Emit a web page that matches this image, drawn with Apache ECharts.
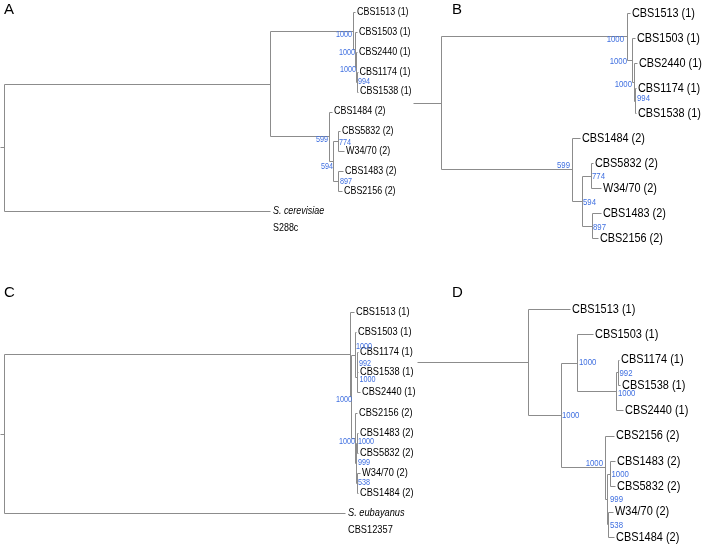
<!DOCTYPE html>
<html>
<head>
<meta charset="utf-8">
<script src="https://cdn.jsdelivr.net/npm/echarts@6.0.0/dist/echarts.min.js"></script>
<style>html,body{margin:0;padding:0;background:#fff}#chart{width:702px;height:544px}</style>
</head>
<body>
<div id="chart"></div>
<script>
// ---------- Panel A (rooted with S. cerevisiae) ----------
const leavesA = ['CBS1513 (1)','CBS1503 (1)','CBS2440 (1)','CBS1174 (1)','CBS1538 (1)','CBS1484 (2)','CBS5832 (2)','W34/70 (2)','CBS1483 (2)','CBS2156 (2)','S. cerevisiae'];
const leafDepthA = [351,353,353,353.5,354,328,336,340,339,338,266];
// internal nodes, children refer to leaf index (0..n-1) or node index (n + k)
const kidsA = [[3,4],[2,11],[1,12],[0,13],[6,7],[8,9],[15,16],[5,17],[14,18],[19,10]];
const nodeDepthA = [353,352,351,349,334,334,329,325,266,0];
const bootA = [994,1000,1000,1000,774,897,594,599,null,null];
const strainA = 'S288c';

// ---------- Panel B (panel A ingroup enlarged) ----------
const leavesB = ['CBS1513 (1)','CBS1503 (1)','CBS2440 (1)','CBS1174 (1)','CBS1538 (1)','CBS1484 (2)','CBS5832 (2)','W34/70 (2)','CBS1483 (2)','CBS2156 (2)'];
const leafDepthB = [189,194,196,195,195,139,152,160,160,157];
const kidsB = [[3,4],[2,10],[1,11],[0,12],[6,7],[8,9],[14,15],[5,16],[13,17]];
const nodeDepthB = [194,193,191,186,150,151,141,131,0];
const bootB = [994,1000,1000,1000,774,897,594,599,null];

// ---------- Panel C (rooted with S. eubayanus) ----------
const leavesC = ['CBS1513 (1)','CBS1503 (1)','CBS1174 (1)','CBS1538 (1)','CBS2440 (1)','CBS2156 (2)','CBS1483 (2)','CBS5832 (2)','W34/70 (2)','CBS1484 (2)','S. eubayanus'];
const leafDepthC = [350,352,354,354,356,353,354,354,356,354,341];
const kidsC = [[2,3],[11,4],[1,12],[6,7],[8,9],[14,15],[5,16],[13,17],[0,18],[19,10]];
const nodeDepthC = [353,352.5,351,353,352.5,352,351,347,346,0];
const bootC = [992,1000,1000,1000,538,999,1000,1000,null,null];
const strainC = 'CBS12357';

// ---------- Panel D (panel C ingroup enlarged) ----------
const leavesD = ['CBS1513 (1)','CBS1503 (1)','CBS1174 (1)','CBS1538 (1)','CBS2440 (1)','CBS2156 (2)','CBS1483 (2)','CBS5832 (2)','W34/70 (2)','CBS1484 (2)'];
const leafDepthD = [42,65,91,92,95,86,87,87,85,86];
const kidsD = [[2,3],[10,4],[1,11],[6,7],[8,9],[13,14],[5,15],[12,16],[0,17]];
const nodeDepthD = [89.5,88,49,81.5,80,79,77,33,0];
const bootD = [992,1000,1000,1000,538,999,1000,1000,null];

const panelLetters = ['A','B','C','D'];

// ---------- layout / style (not data) ----------
const FONT = "'Liberation Sans',Arial,sans-serif";
const SQUEEZE = 0.85;
const LINE = '#8c8c8c';
const BLUE = '#3f6fe0';
const panels = [
  {leaves:leavesA, leafDepth:leafDepthA, kids:kidsA, depth:nodeDepthA, boot:bootA, strain:strainA,
   stem:-4, box:{left:0, top:12, width:400, height:199}, fs:10.5, bfs:8.5,
   bootPos:[['r',1,0],['l',0,3],['l',0,3],['l',-1,4],['r',1,1],['r',2,1],['l',0,5],['l',-1,3]],
   letter:{x:4, y:2}},
  {leaves:leavesB, leafDepth:leafDepthB, kids:kidsB, depth:nodeDepthB, boot:bootB,
   stem:-28, box:{left:413, top:13, width:285, height:225}, fs:12.8, bfs:9.2,
   bootPos:[['r',2,-2],['l',-2,3],['l',-5,2],['l',-3,3.5],['r',1,1],['r',1,1.5],['r',1,1.5],['l',-2,-4]],
   letter:{x:452, y:2}},
  {leaves:leavesC, leafDepth:leafDepthC, kids:kidsC, depth:nodeDepthC, boot:bootC, strain:strainC,
   stem:-4, box:{left:0, top:312, width:400, height:201}, fs:10.9, bfs:8.5,
   bootPos:[['r',2,1],['r',3,2],['r',1,-8],['r',1,-1],['r',1.5,0],['r',2,0],['l',0,4],['l',1,3]],
   letter:{x:4, y:285}},
  {leaves:leavesD, leafDepth:leafDepthD, kids:kidsD, depth:nodeDepthD, boot:bootD,
   stem:-111, box:{left:417, top:309, width:285, height:228}, fs:12.9, bfs:9.2,
   bootPos:[['r',2,1],['r',2,2],['r',2,0],['r',2,1],['r',2,1],['r',3,0],['l',-2,-4],['r',1,0]],
   letter:{x:452, y:285}}
];

function buildTree(p) {
  const n = p.leaves.length;
  const X = p.leafDepth.slice();
  const Y = p.leaves.map((_, i) => i);
  p.kids.forEach((k, j) => {
    const id = n + j;
    X[id] = p.depth[j];
    const ys = k.map(c => Y[c]);
    Y[id] = (Math.min(...ys) + Math.max(...ys)) / 2;
  });
  const segs = [];
  p.kids.forEach((k, j) => {
    const id = n + j;
    const ys = k.map(c => Y[c]);
    segs.push([X[id], Math.min(...ys), X[id], Math.max(...ys)]);
    k.forEach(c => segs.push([X[id], Y[c], X[c], Y[c]]));
  });
  const root = n + p.kids.length - 1;
  segs.push([p.stem, Y[root], X[root], Y[root]]);
  return {X, Y, segs, n};
}

const option = {animation:false, grid:[], xAxis:[], yAxis:[], series:[], graphic:[]};
const snap = v => Math.round(v) + 0.5;

panels.forEach((p, i) => {
  const t = buildTree(p);
  option.grid.push(Object.assign({containLabel:false}, p.box));
  option.xAxis.push({type:'value', gridIndex:i, min:p.stem, max:p.stem + p.box.width, show:false});
  option.yAxis.push({type:'value', gridIndex:i, min:0, max:p.leaves.length - 1, inverse:true, show:false});

  option.series.push({
    type:'custom', xAxisIndex:i, yAxisIndex:i, silent:true,
    data:t.segs, encode:{x:[0,2], y:[1,3]},
    renderItem:(params, api) => {
      const a = api.coord([api.value(0), api.value(1)]);
      const b = api.coord([api.value(2), api.value(3)]);
      return {type:'line', shape:{x1:snap(a[0]), y1:snap(a[1]), x2:snap(b[0]), y2:snap(b[1])},
              style:{stroke:LINE, lineWidth:1}};
    }
  });

  const texts = [];
  p.leaves.forEach((name, li) => {
    const outgroup = li === p.leaves.length - 1 && p.strain;
    texts.push({x:t.X[li], y:t.Y[li], text:name, dx:outgroup ? 3 : 2, dy:0, align:'left',
                fill:'#000', size:p.fs, italic:!!outgroup});
    if (outgroup) texts.push({x:t.X[li], y:t.Y[li], text:p.strain, dx:3, dy:17, align:'left',
                fill:'#000', size:p.fs, italic:false});
  });
  p.boot.forEach((b, j) => {
    if (b === null) return;
    const pos = p.bootPos[j];
    const id = t.n + j;
    texts.push({x:t.X[id], y:t.Y[id], text:String(b), dx:pos[1], dy:pos[2],
                align:pos[0] === 'l' ? 'right' : 'left', fill:BLUE, size:p.bfs, italic:false});
  });

  option.series.push({
    type:'custom', xAxisIndex:i, yAxisIndex:i, silent:true,
    data:texts.map(o => [o.x, o.y]), encode:{x:0, y:1},
    renderItem:(params, api) => {
      const o = texts[params.dataIndex];
      const c = api.coord([api.value(0), api.value(1)]);
      return {type:'text', x:c[0] + o.dx, y:c[1] + o.dy, scaleX:SQUEEZE, scaleY:1,
              style:{text:o.text, fill:o.fill, fontSize:o.size, fontFamily:FONT,
                     fontStyle:o.italic ? 'italic' : 'normal', align:o.align, verticalAlign:'middle'}};
    }
  });

  option.graphic.push({type:'text', left:p.letter.x, top:p.letter.y,
    style:{text:panelLetters[i], fontSize:15, fontFamily:FONT, fill:'#000'}});
});

const chart = echarts.init(document.getElementById('chart'), null, {renderer:'canvas'});
chart.setOption(option);
</script>
</body>
</html>
